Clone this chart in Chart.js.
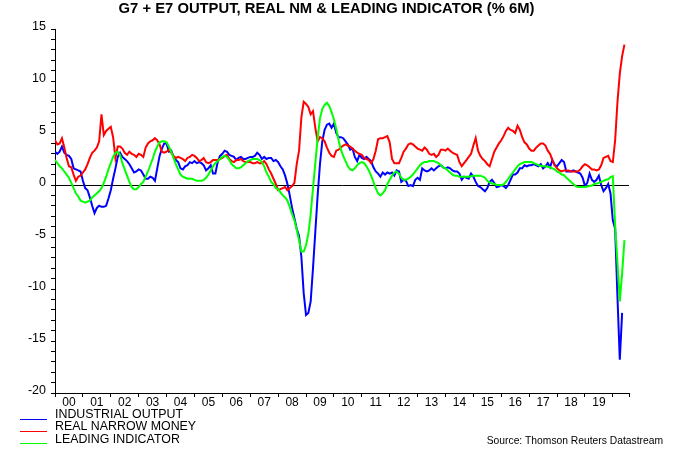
<!DOCTYPE html>
<html><head><meta charset="utf-8">
<script src="https://cdn.jsdelivr.net/npm/chart.js@4.4.0/dist/chart.umd.min.js"></script>
<style>html,body{margin:0;padding:0;background:#fff;}#wrap{width:675px;height:450px;}</style>
</head><body><div id="wrap"><canvas id="c" width="675" height="450"></canvas></div>
<script>
const FONT = "'Liberation Sans', Arial, Helvetica, sans-serif";
const titleText = 'G7 + E7 OUTPUT, REAL NM & LEADING INDICATOR (% 6M)';
const sourceText = 'Source: Thomson Reuters Datastream';
const seriesNames = ['INDUSTRIAL OUTPUT', 'REAL NARROW MONEY', 'LEADING INDICATOR'];
const seriesColors = ['#0000ff', '#ff0000', '#00ff00'];
const startYear = 2000;
const axisEnd = 2020.58;
const yearLabels = ['00','01','02','03','04','05','06','07','08','09','10','11','12','13','14','15','16','17','18','19'];
const yMin = -20, yMax = 15;

// monthly values, Jan 2000 .. Jun 2020
const industrialOutput = [
 3.2, 3.0, 3.2, 3.7, 3.1, 2.9, 2.8, 2.5, 1.6, 1.5, 1.4, 1.3,
 0.4, -0.3, -0.5, -1.2, -2.0, -2.7, -2.2, -2.0, -2.1, -2.1, -2.0, -1.3,
 -0.5, 0.6, 1.6, 2.7, 3.1, 2.7, 2.5, 2.3, 2.0, 1.6, 1.2, 1.3,
 1.5, 1.4, 1.0, 0.6, 0.6, 0.8, 0.7, 0.4, 1.6, 2.8, 3.5, 4.0,
 4.0, 3.2, 3.3, 2.7, 2.4, 2.2, 1.6, 1.5, 1.8, 1.9, 2.2, 2.1,
 2.3, 2.1, 2.2, 2.1, 1.9, 1.4, 1.6, 1.9, 1.1, 1.1, 2.2, 2.8,
 3.0, 3.3, 3.2, 2.9, 2.8, 2.7, 2.4, 2.6, 2.7, 2.5, 2.5, 2.6,
 2.7, 2.7, 2.8, 3.1, 2.9, 2.5, 2.7, 2.5, 2.6, 2.6, 2.3, 2.4,
 2.2, 1.8, 1.5, 0.9, 0.1, -1.0, -2.2, -3.2, -4.2, -4.9, -6.9, -10.4,
 -12.5, -12.3, -11.2, -8.0, -4.5, -1.0, 2.0, 4.2, 5.3, 5.8, 5.9, 5.5,
 5.9, 5.0, 4.6, 4.6, 4.5, 4.2, 3.9, 3.4, 3.5, 2.7, 2.3, 2.9,
 2.6, 2.5, 2.7, 2.5, 2.3, 1.7, 1.3, 1.1, 0.8, 1.2, 1.0, 1.2,
 1.1, 1.2, 0.9, 1.4, 1.3, 0.3, 0.5, 0.4, -0.1, 0.0, -0.1, 0.5,
 0.7, 0.5, 1.6, 1.4, 1.3, 1.4, 1.6, 1.4, 1.6, 1.8, 1.9, 1.7,
 1.6, 1.7, 1.6, 1.4, 1.3, 1.3, 1.1, 0.5, 0.8, 0.7, 0.6, 1.1,
 0.8, 0.3, -0.1, -0.2, -0.4, -0.6, -0.3, 0.3, 0.5, 0.2, -0.2, -0.15,
 0.0, -0.1, -0.3, 0.0, 0.5, 1.0, 1.0, 1.2, 1.6, 1.6, 1.9, 1.8,
 1.9, 1.9, 2.0, 1.9, 1.8, 2.0, 1.6, 1.8, 2.1, 1.7, 2.4, 1.9,
 1.8, 2.1, 2.4, 2.2, 1.3, 1.3, 1.3, 1.4, 1.3, 1.2, 1.1, 0.7,
 -0.1, 0.2, 1.1, 0.5, 0.3, 0.5, 0.9, 0.0, -0.6, -0.3, 0.1, -0.8,
 -3.4, -4.2, -10.8, -16.8, -12.3, null
];
const realNarrowMoney = [
 4.3, 3.9, 4.0, 4.5, 3.6, 2.6, 1.8, 1.7, 1.0, 0.4, 0.8, 0.9,
 1.2, 1.5, 2.0, 2.6, 3.1, 3.3, 3.6, 4.2, 6.8, 4.8, 5.2, 5.4,
 5.6, 4.6, 2.6, 3.7, 3.7, 3.5, 3.1, 2.9, 3.2, 3.0, 2.9, 2.7,
 3.0, 2.9, 2.7, 3.6, 4.0, 4.2, 4.3, 4.5, 4.3, 3.9, 3.2, 3.1,
 3.2, 3.4, 3.1, 2.8, 2.6, 2.7, 2.6, 2.5, 2.3, 2.6, 2.7, 2.9,
 2.8, 2.6, 2.3, 2.4, 2.6, 2.2, 2.1, 2.2, 2.4, 2.4, 2.4, 2.5,
 2.6, 2.8, 2.9, 2.5, 2.3, 2.2, 2.4, 2.4, 2.5, 2.3, 2.2, 2.2,
 2.2, 2.1, 2.1, 2.2, 2.1, 2.1, 2.3, 2.0, 1.5, 1.1, 0.6, 0.1,
 -0.5, -0.4, -0.3, -0.2, -0.5, -0.3, -0.1, 0.2, 2.0, 3.3, 6.5, 8.0,
 7.8, 7.5, 6.8, 7.1, 5.5, 4.2, 4.6, 4.5, 4.2, 3.6, 3.1, 2.8,
 2.7, 3.3, 3.4, 3.6, 3.8, 3.9, 3.8, 3.7, 3.5, 3.3, 3.1, 3.0,
 2.9, 2.6, 2.5, 2.4, 2.1, 2.5, 3.3, 4.4, 4.5, 4.5, 4.6, 4.7,
 4.1, 2.5, 2.1, 2.1, 2.1, 2.6, 3.2, 3.5, 3.9, 4.0, 3.9, 3.7,
 3.5, 3.4, 3.3, 3.6, 3.4, 3.0, 2.9, 3.0, 2.7, 2.9, 3.4, 3.4,
 3.3, 3.5, 3.3, 3.1, 3.0, 2.9, 2.2, 1.8, 2.1, 2.4, 2.7, 3.0,
 3.8, 4.5, 3.3, 2.8, 2.5, 2.3, 2.0, 1.8, 2.5, 3.2, 3.6, 4.0,
 4.3, 4.7, 5.2, 5.5, 5.3, 5.2, 5.0, 5.7, 5.3, 4.6, 4.1, 3.9,
 3.5, 3.3, 3.3, 3.6, 3.8, 4.0, 4.0, 3.8, 3.3, 3.0, 2.4, 1.9,
 1.6, 1.4, 1.3, 1.4, 1.4, 1.4, 1.3, 1.3, 1.3, 1.3, 1.5, 1.8,
 2.0, 1.9, 1.7, 1.5, 1.5, 1.4, 1.5, 1.9, 2.6, 2.7, 2.8, 2.3,
 2.2, 4.3, 8.0, 10.7, 12.4, 13.5
];
const leadingIndicator = [
 2.4, 2.1, 1.8, 1.6, 1.3, 1.0, 0.7, 0.2, -0.3, -0.8, -1.1, -1.5,
 -1.6, -1.7, -1.6, -1.5, -1.2, -1.0, -0.8, -0.6, -0.3, 0.2, 0.8, 1.5,
 2.1, 2.7, 3.1, 3.2, 2.9, 2.1, 1.5, 0.9, 0.3, -0.2, -0.4, -0.4,
 -0.2, 0.1, 0.3, 0.8, 1.3, 1.9, 2.5, 3.2, 3.7, 4.1, 4.2, 4.2,
 4.1, 3.7, 3.2, 2.6, 2.0, 1.5, 1.0, 0.8, 0.7, 0.6, 0.6, 0.6,
 0.5, 0.4, 0.4, 0.4, 0.5, 0.7, 1.0, 1.4, 1.8, 2.1, 2.3, 2.5,
 2.7, 2.8, 2.7, 2.4, 2.0, 1.8, 1.6, 1.6, 1.7, 1.9, 2.1, 2.3,
 2.4, 2.5, 2.5, 2.5, 2.4, 2.2, 1.8, 1.2, 0.8, 0.3, 0.1, -0.3,
 -0.4, -0.7, -1.0, -1.2, -1.5, -2.1, -2.8, -3.4, -4.3, -5.3, -6.4, -6.4,
 -5.8, -4.7, -2.8, -0.3, 2.1, 4.5, 6.4, 7.3, 7.7, 7.9, 7.6, 7.0,
 6.3, 5.4, 4.3, 3.4, 2.8, 2.3, 1.8, 1.5, 1.4, 1.6, 1.9, 2.1,
 2.2, 2.1, 1.8, 1.4, 0.9, 0.3, -0.3, -0.8, -1.0, -0.8, -0.5, 0.1,
 0.5, 0.9, 1.2, 1.3, 1.1, 0.7, 0.5, 0.5, 0.6, 0.8, 1.0, 1.3,
 1.6, 1.9, 2.1, 2.2, 2.2, 2.3, 2.3, 2.3, 2.2, 2.1, 1.9, 1.7,
 1.6, 1.4, 1.2, 1.0, 0.9, 0.9, 0.8, 0.8, 0.8, 0.8, 0.8, 0.85,
 0.9, 0.9, 0.9, 0.9, 0.8, 0.7, 0.4, 0.25, 0.15, 0.1, 0.0, 0.0,
 0.0, 0.05, 0.3, 0.6, 0.9, 1.2, 1.5, 1.8, 2.0, 2.1, 2.2, 2.2,
 2.2, 2.2, 2.1, 2.0, 1.9, 1.85, 1.8, 1.8, 1.75, 1.7, 1.6, 1.5,
 1.3, 1.2, 1.0, 0.95, 0.7, 0.5, 0.3, 0.1, -0.1, -0.2, -0.2, -0.2,
 -0.2, -0.15, -0.1, -0.05, 0.1, 0.15, 0.2, 0.3, 0.4, 0.5, 0.55, 0.75,
 0.85, -3.9, -7.5, -11.2, -8.5, -5.3
];

const months = realNarrowMoney.map((_, i) => startYear + i / 12);
const toPoints = vals => vals.map((v, i) => ({x: months[i], y: v}));
const boundaryTicks = yearLabels.map((_, i) => startYear + i).concat([startYear + yearLabels.length, axisEnd]);
const midTicks = yearLabels.map((_, i) => startYear + i + 0.5);
const yValues = [];
for (let v = yMin; v <= yMax; v++) yValues.push(v);

const decorations = {
  id: 'decorations',
  afterDraw(chart) {
    const c = chart.ctx;
    c.save();
    c.fillStyle = '#000';
    c.textAlign = 'center';
    c.textBaseline = 'middle';
    c.font = 'bold 14.8px ' + FONT;
    c.fillText(titleText, 326.5, 9);
    const rows = [415, 427, 439.3];
    c.font = '12.4px ' + FONT;
    c.textAlign = 'left';
    seriesNames.forEach((name, i) => {
      c.strokeStyle = seriesColors[i];
      c.lineWidth = 1;
      c.beginPath();
      c.moveTo(20, Math.round(rows[i] + 3.5) + 0.5);
      c.lineTo(47, Math.round(rows[i] + 3.5) + 0.5);
      c.stroke();
      c.fillStyle = '#000';
      c.fillText(name, 55, rows[i]);
    });
    c.font = '10.3px ' + FONT;
    c.textAlign = 'right';
    c.fillText(sourceText, 663, 441);
    c.restore();
  }
};

new Chart(document.getElementById('c'), {
  type: 'line',
  data: {
    datasets: [
      {label: seriesNames[2], data: toPoints(leadingIndicator), borderColor: seriesColors[2], borderWidth: 2, order: 0},
      {label: seriesNames[1], data: toPoints(realNarrowMoney), borderColor: seriesColors[1], borderWidth: 2, order: 1},
      {label: seriesNames[0], data: toPoints(industrialOutput), borderColor: seriesColors[0], borderWidth: 2, order: 2}
    ]
  },
  options: {
    responsive: false,
    animation: false,
    devicePixelRatio: 1,
    layout: {padding: {left: 0, right: 46, top: 29, bottom: 0}},
    elements: {point: {radius: 0}, line: {tension: 0, fill: false}},
    plugins: {legend: {display: false}, tooltip: {enabled: false}, title: {display: false}},
    scales: {
      x: {
        type: 'linear', min: startYear, max: axisEnd,
        afterBuildTicks: s => { s.ticks = boundaryTicks.concat(midTicks).sort((a, b) => a - b).map(v => ({value: v})); },
        afterFit: s => { s.height = 57; },
        grid: {
          drawOnChartArea: false, tickLength: 4, lineWidth: 1,
          color: 'rgba(0,0,0,0)',
          tickColor: c => (c.tick && Math.abs(c.tick.value % 1 - 0.5) < 1e-6) ? 'rgba(0,0,0,0)' : '#000'
        },
        border: {color: '#000', width: 1},
        ticks: {
          autoSkip: false, maxRotation: 0, minRotation: 0, padding: -2, color: '#000',
          font: {family: FONT, size: 12},
          callback: v => Math.abs(v % 1 - 0.5) < 1e-6 ? yearLabels[Math.floor(v - startYear)] : ''
        }
      },
      y: {
        min: yMin, max: yMax,
        afterBuildTicks: s => { s.ticks = yValues.map(v => ({value: v})); },
        afterFit: s => { s.width = 55; },
        grid: {
          drawOnChartArea: true, tickLength: 4, lineWidth: 1,
          color: c => (c.tick && c.tick.value === 0) ? '#000' : 'rgba(0,0,0,0)',
          tickColor: '#000'
        },
        border: {color: '#000', width: 1},
        ticks: {
          autoSkip: false, padding: 5, labelOffset: -2.5, color: '#000',
          font: {family: FONT, size: 12.5},
          callback: v => v % 5 === 0 ? String(v) : ''
        }
      }
    }
  },
  plugins: [decorations]
});
</script>
</body></html>
